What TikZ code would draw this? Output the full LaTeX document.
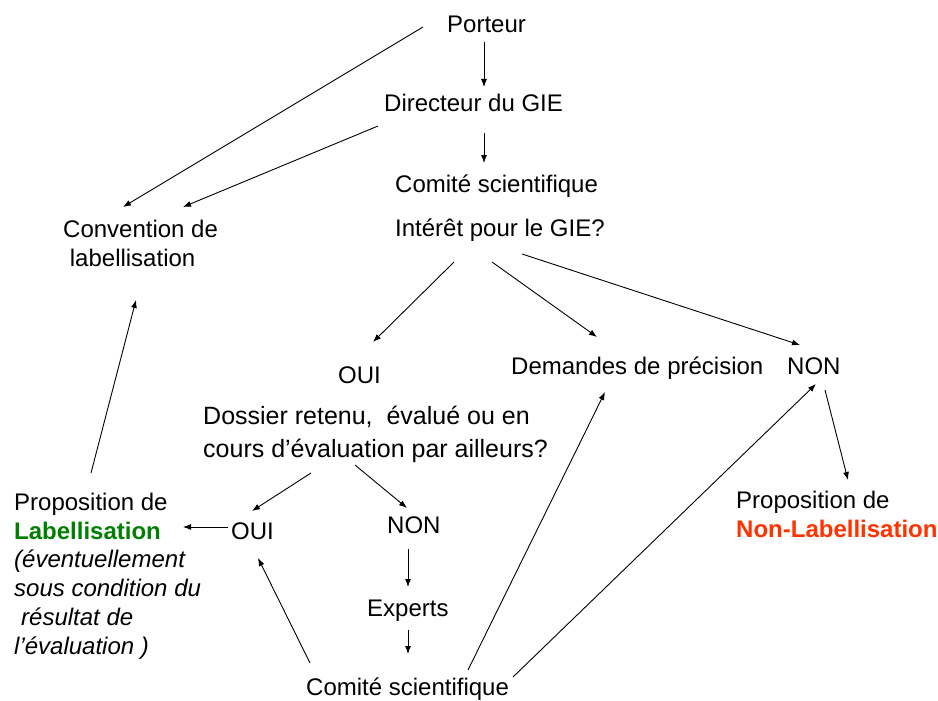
\documentclass[tikz,border=0pt]{standalone}
\usepackage{fontspec}
\setmainfont{Liberation Sans}
\usetikzlibrary{arrows.meta}
\definecolor{labgreen}{RGB}{0,128,0}
\definecolor{nonred}{RGB}{255,51,0}

\begin{document}
\begin{tikzpicture}[x=1pt,y=-1pt,
  txt/.style={inner sep=0pt,anchor=base west,font=\fontsize{24}{29}\selectfont},
  bloc/.style={inner sep=0pt,anchor=north west,align=left,font=\fontsize{24}{29}\selectfont},
  arr/.style={-{Latex[length=8pt,width=6pt]},line width=0.9pt}]
  \useasboundingbox (0,0) rectangle (938,701);

  % top of the chain
  \node[txt] (porteur) at (447,33) {Porteur};
  \node[txt] (directeur) at (384,112) {Directeur du GIE};
  \node[txt] (comite) at (395,192) {Comité scientifique};
  \node[txt] (interet) at (395,236) {Intérêt pour le GIE?};
  \node[bloc] (convention) at (63,219.5) {Convention de\\\hspace*{6.7pt}labellisation};

  % answers
  \node[txt] (oui) at (338,383) {OUI};
  \node[txt] (demandes) at (511,374) {Demandes de précision};
  \node[txt] (non) at (787,374) {NON};
  \node[bloc,font=\fontsize{25}{33}\selectfont] (dossier) at (203,405.8) {Dossier retenu,\ \ évalué ou en\\cours d’évaluation par ailleurs?};
  \node[bloc] (nonlab) at (736,490.8) {Proposition de\\{\bfseries\color{nonred}Non-Labellisation}};

  % bottom part
  \node[txt] (oui2) at (231,539) {OUI};
  \node[txt] (non2) at (387,533) {NON};
  \node[txt] (experts) at (367,616) {Experts};
  \node[txt] (comite2) at (306,695) {Comité scientifique};
  \node[bloc,font=\fontsize{24}{28.8}\selectfont] (lab) at (14,492.8) {Proposition de\\
    {\bfseries\color{labgreen}Labellisation}\\
    {\itshape (éventuellement}\\
    {\itshape sous condition du}\\
    {\itshape\hspace*{7pt}résultat de}\\
    {\itshape l’évaluation )}};

  % connectors
  \draw[arr] ([shift={(37,9)}]porteur.base west) -- ([shift={(100,-25)}]directeur.base west);
  \draw[arr] ([shift={(100,21)}]directeur.base west) -- ([shift={(89,-29)}]comite.base west);
  \draw[arr] ([shift={(-24,-6)}]porteur.base west) -- ([shift={(60,-12.5)}]convention.north west);
  \draw[arr] ([shift={(-6,14)}]directeur.base west) -- ([shift={(120,-12.5)}]convention.north west);
  \draw[arr] ([shift={(59,26)}]interet.base west) -- ([shift={(35,-41)}]oui.base west);
  \draw[arr] ([shift={(97,26)}]interet.base west) -- ([shift={(86,-37)}]demandes.base west);
  \draw[arr] ([shift={(127,18)}]interet.base west) -- ([shift={(13,-29)}]non.base west);
  \draw[arr] ([shift={(38,16)}]non.base west) -- ([shift={(112,-10.8)}]nonlab.north west);
  \draw[arr] ([shift={(108,67.2)}]dossier.north west) -- ([shift={(21,-28)}]oui2.base west);
  \draw[arr] ([shift={(152,59.2)}]dossier.north west) -- ([shift={(20,-25)}]non2.base west);
  \draw[arr] ([shift={(21,16)}]non2.base west) -- ([shift={(41,-29)}]experts.base west);
  \draw[arr] ([shift={(41,14)}]experts.base west) -- ([shift={(102,-41)}]comite2.base west);
  \draw[arr] ([shift={(4,-32)}]comite2.base west) -- ([shift={(27,19)}]oui2.base west);
  \draw[arr] ([shift={(162,-25)}]comite2.base west) -- ([shift={(94,18)}]demandes.base west);
  \draw[arr] ([shift={(207,-18)}]comite2.base west) -- ([shift={(29,10)}]non.base west);
  \draw[arr] ([shift={(-3,-12)}]oui2.base west) -- ([shift={(169,34.2)}]lab.north west);
  \draw[arr] ([shift={(77,-19.8)}]lab.north west) -- ([shift={(73,80.5)}]convention.north west);
\end{tikzpicture}
\end{document}
